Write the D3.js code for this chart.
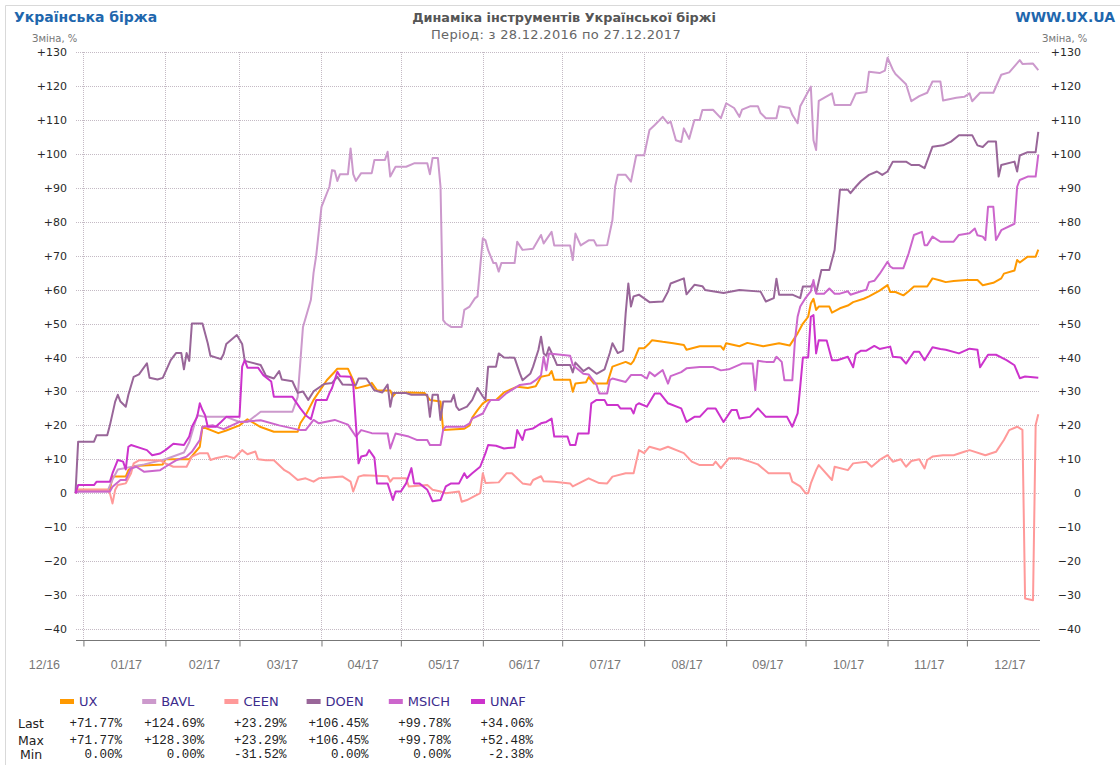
<!DOCTYPE html>
<html>
<head>
<meta charset="utf-8">
<script src="https://cdn.jsdelivr.net/npm/d3@7"></script>
<style>
  body { margin: 0; background: #fff; }
</style>
</head>
<body>
<svg id="chart" width="1120" height="765"></svg>
<script>
// series names and colours
const seriesNames = ["UX", "BAVL", "CEEN", "DOEN", "MSICH", "UNAF"];
const seriesColors = ["#ff9900", "#cc99cc", "#ff9999", "#996699", "#cc66cc", "#cc33cc"];

// values: [date, change %]
const uxData = [
  ["2016-12-29",0],["2016-12-30",1],["2017-01-11",1],["2017-01-12",4.9],["2017-01-17",4.9],["2017-01-18",6.8],
  ["2017-01-20",8],["2017-01-31",8.5],["2017-02-01",10],["2017-02-10",10],["2017-02-14",13.7],["2017-02-15",19.6],
  ["2017-02-21",17.7],["2017-02-24",18.5],["2017-03-01",20],["2017-03-04",21.8],["2017-03-09",19.5],["2017-03-14",18.1],
  ["2017-03-23",18.1],["2017-03-24",20.6],["2017-03-26",23],["2017-03-29",27.5],["2017-04-03",33.3],["2017-04-06",35.8],
  ["2017-04-07",36.7],["2017-04-11",36.7],["2017-04-13",33.3],["2017-04-14",30.9],["2017-04-19",31.9],["2017-04-20",32.5],
  ["2017-04-22",30.3],["2017-04-27",30.3],["2017-04-28",28.5],["2017-04-29",29.5],["2017-05-04",29.7],["2017-05-10",29.5],
  ["2017-05-12",27.5],["2017-05-16",27],["2017-05-17",18.6],["2017-05-25",19],["2017-05-27",20],["2017-05-28",22.3],
  ["2017-05-30",24.5],["2017-06-01",26.5],["2017-06-03",27.5],["2017-06-06",27.5],["2017-06-09",29.7],["2017-06-14",31.4],
  ["2017-06-18",31],["2017-06-21",31.5],["2017-06-23",34.3],["2017-06-26",34.8],["2017-06-27",36],["2017-06-28",33.4],
  ["2017-07-04",33.4],["2017-07-05",29.9],["2017-07-06",32.3],["2017-07-10",32.7],["2017-07-11",34.2],["2017-07-13",32.3],
  ["2017-07-18",32.3],["2017-07-20",37.3],["2017-07-25",38.7],["2017-07-27",38],["2017-07-28",39],["2017-07-30",42.7],
  ["2017-08-01",42.7],["2017-08-03",44.2],["2017-08-04",45.1],["2017-08-08",44.6],["2017-08-12",44.2],["2017-08-16",43.7],
  ["2017-08-17",42.3],["2017-08-22",43.3],["2017-08-30",43.3],["2017-08-31",42.3],["2017-09-01",44.2],["2017-09-06",43.3],
  ["2017-09-09",44.3],["2017-09-15",43.3],["2017-09-21",44.2],["2017-09-25",43.5],["2017-09-28",47.1],["2017-09-30",50],
  ["2017-10-02",52],["2017-10-03",55.9],["2017-10-04",57.3],["2017-10-05",54],["2017-10-06",55],["2017-10-10",55],
  ["2017-10-11",53.2],["2017-10-14",54.5],["2017-10-17",55.3],["2017-10-19",56.3],["2017-10-23",57.3],["2017-10-25",58],
  ["2017-10-29",59.7],["2017-11-01",61.3],["2017-11-02",59.3],["2017-11-04",59.3],["2017-11-07",58.3],["2017-11-09",59.5],
  ["2017-11-11",60.9],["2017-11-16",60.9],["2017-11-18",63.3],["2017-11-21",62.7],["2017-11-23",62.2],["2017-11-26",62.5],
  ["2017-12-01",62.8],["2017-12-05",62.8],["2017-12-07",61.3],["2017-12-11",62],["2017-12-14",63.3],["2017-12-15",64.7],
  ["2017-12-19",65.6],["2017-12-20",68.7],["2017-12-21",68],["2017-12-24",69.7],["2017-12-27",69.7],["2017-12-28",71.77]
];

const bavlData = [
  ["2016-12-29",0],["2016-12-30",0.5],["2017-01-10",0.5],["2017-01-12",4],["2017-01-14",7],["2017-01-24",8.5],
  ["2017-02-01",10],["2017-02-08",12],["2017-02-10",15],["2017-02-13",23],["2017-02-16",22.5],["2017-02-24",22.5],
  ["2017-03-01",21],["2017-03-04",21],["2017-03-09",24],["2017-03-21",24],["2017-03-23",28.4],["2017-03-25",49],
  ["2017-03-28",57],["2017-03-29",64.9],["2017-03-30",70],["2017-04-01",84.4],["2017-04-04",90.3],["2017-04-05",95.2],
  ["2017-04-06",95],["2017-04-07",92],["2017-04-08",94],["2017-04-11",94],["2017-04-12",101.6],["2017-04-13",94],
  ["2017-04-14",92],["2017-04-16",94.3],["2017-04-20",94.3],["2017-04-21",98.2],["2017-04-25",98.2],["2017-04-26",100.6],
  ["2017-04-27",93.3],["2017-04-29",96.2],["2017-05-03",96.2],["2017-05-06",97.2],["2017-05-11",97.2],["2017-05-12",94],
  ["2017-05-13",98.8],["2017-05-15",98.8],["2017-05-16",90.3],["2017-05-17",51],["2017-05-18",50],["2017-05-20",49],
  ["2017-05-24",49],["2017-05-25",54],["2017-05-27",55],["2017-05-29",57.4],["2017-05-30",58],["2017-05-31",66.7],
  ["2017-06-01",75.1],["2017-06-02",74.5],["2017-06-03",71.6],["2017-06-05",67.8],["2017-06-06",67.8],["2017-06-07",65.3],
  ["2017-06-08",67.8],["2017-06-13",67.8],["2017-06-14",74.1],["2017-06-16",71.7],["2017-06-20",72],["2017-06-23",76.1],
  ["2017-06-24",73.6],["2017-06-27",77],["2017-06-28",73],["2017-07-04",73],["2017-07-05",68.7],["2017-07-06",76.5],
  ["2017-07-08",73],["2017-07-11",74.5],["2017-07-13",74.5],["2017-07-14",73],["2017-07-18",73.1],["2017-07-20",80.5],
  ["2017-07-21",90.3],["2017-07-22",93.8],["2017-07-25",93.8],["2017-07-27",91.8],["2017-07-29",99.6],["2017-08-01",99.6],
  ["2017-08-03",107],["2017-08-05",108.5],["2017-08-08",110.9],["2017-08-10",109],["2017-08-11",109.5],["2017-08-13",104],
  ["2017-08-15",103.5],["2017-08-16",107.5],["2017-08-18",104.4],["2017-08-20",110],["2017-08-22",110],["2017-08-23",112.9],
  ["2017-08-27",113],["2017-08-30",110.5],["2017-09-01",114.9],["2017-09-04",113.5],["2017-09-06",110.9],["2017-09-07",113],
  ["2017-09-10",114],["2017-09-13",114],["2017-09-14",112],["2017-09-16",110.5],["2017-09-20",110.5],["2017-09-21",114],
  ["2017-09-25",113.5],["2017-09-26",111.5],["2017-09-28",109],["2017-09-29",114],["2017-10-01",116.9],["2017-10-03",119.8],
  ["2017-10-04",104],["2017-10-05",101.1],["2017-10-06",115.6],["2017-10-08",116.5],["2017-10-11",117.8],["2017-10-12",114.4],
  ["2017-10-18",114.4],["2017-10-20",117.8],["2017-10-24",118.2],["2017-10-25",124.2],["2017-10-29",123.8],["2017-10-31",124.5],
  ["2017-11-01",128.3],["2017-11-03",124.8],["2017-11-04",123.5],["2017-11-08",120.5],["2017-11-10",115.5],["2017-11-13",117],
  ["2017-11-16",118],["2017-11-18",121.3],["2017-11-21",121.3],["2017-11-22",115.7],["2017-11-27",116.5],["2017-11-30",116.8],
  ["2017-12-02",117.8],["2017-12-03",115.5],["2017-12-06",118],["2017-12-11",118],["2017-12-14",123.3],["2017-12-17",124],
  ["2017-12-21",127.6],["2017-12-22",126.5],["2017-12-26",126.6],["2017-12-28",124.69]
];

const ceenData = [
  ["2016-12-29",0],["2016-12-30",1],["2017-01-10",1],["2017-01-11",0],["2017-01-12",-3],["2017-01-13",1],
  ["2017-01-14",2.4],["2017-01-17",2.9],["2017-01-19",5.9],["2017-01-20",8.8],["2017-01-22",9.7],["2017-01-30",9.7],
  ["2017-02-01",8.8],["2017-02-04",7.8],["2017-02-09",7.8],["2017-02-11",10.8],["2017-02-14",11.8],["2017-02-17",11.8],
  ["2017-02-18",9.8],["2017-02-20",10.3],["2017-02-24",11],["2017-02-27",10.3],["2017-03-02",12.7],["2017-03-04",11.5],
  ["2017-03-07",12.3],["2017-03-08",10],["2017-03-11",9.7],["2017-03-14",9.7],["2017-03-18",6.8],["2017-03-20",5.9],
  ["2017-03-23",3.9],["2017-03-26",4.4],["2017-03-29",3.4],["2017-03-31",4.4],["2017-04-09",4.9],["2017-04-12",3.4],
  ["2017-04-13",0.5],["2017-04-15",4.9],["2017-04-17",5.3],["2017-04-26",5],["2017-04-27",3.4],["2017-04-28",4.4],
  ["2017-05-03",4.4],["2017-05-04",2],["2017-05-11",2.4],["2017-05-13",1],["2017-05-16",0.5],["2017-05-18",0],
  ["2017-05-23",0.5],["2017-05-24",-2.5],["2017-05-26",-2],["2017-05-31",0],["2017-06-01",5.9],["2017-06-02",3],
  ["2017-06-07",3.2],["2017-06-10",5.9],["2017-06-12",5.9],["2017-06-16",2.9],["2017-06-19",2.5],["2017-06-20",3.9],
  ["2017-06-23",5],["2017-06-24",3.5],["2017-06-28",3.4],["2017-07-04",2.9],["2017-07-05",2],["2017-07-11",4.4],
  ["2017-07-15",3],["2017-07-18",2.9],["2017-07-20",4.9],["2017-07-25",5.9],["2017-07-28",5.9],["2017-07-30",12.7],
  ["2017-08-01",11.8],["2017-08-03",13.7],["2017-08-07",12.8],["2017-08-10",13.7],["2017-08-16",11.8],["2017-08-19",9.3],
  ["2017-08-22",8.3],["2017-08-27",8.3],["2017-08-28",9.3],["2017-08-30",7.4],["2017-09-02",10.3],["2017-09-06",10.3],
  ["2017-09-10",9.3],["2017-09-13",8.5],["2017-09-17",5.9],["2017-09-25",5.9],["2017-09-26",3.4],["2017-09-29",2],
  ["2017-10-01",0],["2017-10-02",0],["2017-10-03",2.9],["2017-10-05",6.8],["2017-10-06",8.3],["2017-10-11",3.9],
  ["2017-10-12",7.8],["2017-10-17",6.8],["2017-10-19",8.8],["2017-10-24",9.3],["2017-10-26",7.8],["2017-10-29",9.8],
  ["2017-11-01",11.2],["2017-11-03",9.3],["2017-11-06",10],["2017-11-08",7.8],["2017-11-10",9.5],["2017-11-13",10],
  ["2017-11-15",7.3],["2017-11-16",9.8],["2017-11-18",10.8],["2017-11-22",11.2],["2017-11-26",11.2],["2017-11-30",12.2],
  ["2017-12-02",12.7],["2017-12-08",11.2],["2017-12-12",12.2],["2017-12-15",15.7],["2017-12-17",18.6],["2017-12-20",19.6],
  ["2017-12-22",18.7],["2017-12-23",-31],["2017-12-26",-31.52],["2017-12-27",20.1],["2017-12-28",23.29]
];

const doenData = [
  ["2016-12-29",0],["2016-12-30",15.2],["2017-01-05",15.2],["2017-01-06",17.1],["2017-01-10",17.1],["2017-01-11",20],
  ["2017-01-13",27],["2017-01-14",29],["2017-01-15",27],["2017-01-17",25.5],["2017-01-18",29],["2017-01-20",34.3],
  ["2017-01-22",35],["2017-01-25",38.3],["2017-01-26",34],["2017-01-29",33.5],["2017-01-31",34],["2017-02-03",39.2],
  ["2017-02-05",41.3],["2017-02-07",41.3],["2017-02-08",36.5],["2017-02-09",41.3],["2017-02-10",39],["2017-02-11",50],
  ["2017-02-15",50],["2017-02-17",44.2],["2017-02-18",40.5],["2017-02-22",39.5],["2017-02-23",41],["2017-02-24",44],
  ["2017-02-28",46.6],["2017-03-02",44],["2017-03-03",39],["2017-03-09",37.8],["2017-03-11",34.6],["2017-03-14",33.8],
  ["2017-03-16",36],["2017-03-17",33.5],["2017-03-21",33],["2017-03-23",29.6],["2017-03-25",30],["2017-03-27",27.5],
  ["2017-03-29",30],["2017-04-02",32.2],["2017-04-05",32.5],["2017-04-07",34.3],["2017-04-09",32],["2017-04-14",31.9],
  ["2017-04-15",33.8],["2017-04-18",33.8],["2017-04-21",30.3],["2017-04-24",29.7],["2017-04-26",32],["2017-04-27",25.5],
  ["2017-04-28",29.5],["2017-05-03",29.5],["2017-05-05",29],["2017-05-11",29],["2017-05-12",22.5],["2017-05-13",29],
  ["2017-05-15",29],["2017-05-16",21.6],["2017-05-17",27],["2017-05-20",27],["2017-05-21",29],["2017-05-22",25.5],
  ["2017-05-23",24.5],["2017-05-26",25.5],["2017-05-28",27.5],["2017-05-30",31],["2017-06-01",28.5],["2017-06-02",27.5],
  ["2017-06-03",37.3],["2017-06-06",37.3],["2017-06-07",41.2],["2017-06-09",40],["2017-06-13",39.9],["2017-06-15",35.3],
  ["2017-06-16",33.3],["2017-06-19",35.3],["2017-06-20",37.3],["2017-06-22",42.2],["2017-06-23",46.1],["2017-06-24",41.2],
  ["2017-06-25",40.5],["2017-06-26",43],["2017-06-28",39.7],["2017-06-29",37.8],["2017-07-04",37.8],["2017-07-05",35.6],
  ["2017-07-06",38.5],["2017-07-09",36],["2017-07-11",37],["2017-07-14",35.2],["2017-07-17",36.5],["2017-07-19",41.3],
  ["2017-07-20",44.2],["2017-07-22",41.3],["2017-07-24",42],["2017-07-25",53],["2017-07-26",61.8],["2017-07-27",55],
  ["2017-07-28",58],["2017-07-30",58.5],["2017-08-03",56.3],["2017-08-08",56.5],["2017-08-10",59.4],["2017-08-11",61.8],
  ["2017-08-16",63.3],["2017-08-17",58.6],["2017-08-20",61.4],["2017-08-23",61],["2017-08-24",59.9],["2017-08-31",59],
  ["2017-09-06",59.9],["2017-09-14",59.4],["2017-09-16",56.5],["2017-09-19",57.5],["2017-09-20",63.2],["2017-09-21",58.5],
  ["2017-09-26",58.5],["2017-09-29",57.5],["2017-09-30",60.9],["2017-10-03",60.9],["2017-10-04",62],["2017-10-05",59],
  ["2017-10-07",65.8],["2017-10-10",65.8],["2017-10-12",71.7],["2017-10-13",80.5],["2017-10-14",89.4],["2017-10-17",89.4],
  ["2017-10-18",88.4],["2017-10-20",90.3],["2017-10-22",92],["2017-10-25",93.8],["2017-10-28",94.8],["2017-10-30",93.8],
  ["2017-11-01",94.8],["2017-11-03",97.7],["2017-11-08",97.7],["2017-11-10",96.7],["2017-11-13",96.7],["2017-11-15",95.8],
  ["2017-11-18",102.1],["2017-11-22",102.5],["2017-11-25",103.6],["2017-11-28",105.5],["2017-12-03",105.5],["2017-12-05",102.5],
  ["2017-12-07",102],["2017-12-09",103.6],["2017-12-12",103.6],["2017-12-13",93.3],["2017-12-14",96.7],["2017-12-19",97.7],
  ["2017-12-20",94.8],["2017-12-21",99.5],["2017-12-24",100.5],["2017-12-27",100.5],["2017-12-28",106.45]
];

const msichData = [
  ["2016-12-29",0],["2016-12-30",0.5],["2017-01-11",0.5],["2017-01-12",1.9],["2017-01-15",3.9],["2017-01-17",3.9],
  ["2017-01-19",7.3],["2017-01-21",7.8],["2017-01-24",6.3],["2017-01-30",6.8],["2017-02-01",7.8],["2017-02-05",9.7],
  ["2017-02-09",10.8],["2017-02-11",12.2],["2017-02-14",15.7],["2017-02-15",19.6],["2017-02-19",20],["2017-02-23",18.9],
  ["2017-03-01",21],["2017-03-09",21.5],["2017-03-16",20],["2017-03-24",18.6],["2017-03-26",18.6],["2017-03-29",21.6],
  ["2017-03-31",20.6],["2017-04-06",21.6],["2017-04-11",20.2],["2017-04-14",16.7],["2017-04-16",18.6],["2017-04-20",17.7],
  ["2017-04-26",17.6],["2017-04-27",13.2],["2017-04-29",17.6],["2017-05-04",16.7],["2017-05-07",15.7],["2017-05-11",15.7],
  ["2017-05-12",14.2],["2017-05-16",14.2],["2017-05-17",18.7],["2017-05-18",19.6],["2017-05-25",19.6],["2017-05-27",20.6],
  ["2017-05-28",22],["2017-06-01",23.5],["2017-06-03",26.5],["2017-06-04",27.5],["2017-06-07",27.5],["2017-06-10",29.5],
  ["2017-06-15",31.9],["2017-06-19",32.3],["2017-06-21",33.3],["2017-06-23",34.8],["2017-06-24",40.2],["2017-06-25",36.2],
  ["2017-06-26",41.2],["2017-07-04",40.5],["2017-07-05",37.8],["2017-07-09",35.2],["2017-07-11",35],["2017-07-14",31.9],
  ["2017-07-15",29.4],["2017-07-18",29.4],["2017-07-19",33.3],["2017-07-20",33.8],["2017-07-25",32.8],["2017-07-27",34.8],
  ["2017-07-31",34.8],["2017-08-02",33.8],["2017-08-03",35.7],["2017-08-05",34.5],["2017-08-08",36.3],["2017-08-10",32.3],
  ["2017-08-11",34.5],["2017-08-15",35.7],["2017-08-17",36.8],["2017-08-22",37.2],["2017-08-27",37.2],["2017-08-30",36.2],
  ["2017-09-02",36.5],["2017-09-07",38.2],["2017-09-11",38.2],["2017-09-12",30.4],["2017-09-13",39],["2017-09-16",38.7],
  ["2017-09-19",38.7],["2017-09-20",40.2],["2017-09-22",38.7],["2017-09-23",33.3],["2017-09-26",33.3],["2017-09-27",45],
  ["2017-09-28",52],["2017-09-29",55],["2017-10-01",57.5],["2017-10-02",58.5],["2017-10-03",59.5],["2017-10-04",62.8],
  ["2017-10-05",58.8],["2017-10-08",58.8],["2017-10-10",60.3],["2017-10-12",58.8],["2017-10-14",58.8],["2017-10-17",59.5],
  ["2017-10-18",58.5],["2017-10-22",59.5],["2017-10-24",60],["2017-10-25",62.2],["2017-10-27",62.6],["2017-10-29",64.6],
  ["2017-11-01",68.2],["2017-11-02",66.8],["2017-11-03",66.3],["2017-11-07",66.3],["2017-11-09",70.7],["2017-11-11",76.1],
  ["2017-11-14",77],["2017-11-15",73.1],["2017-11-16",73.1],["2017-11-18",75.6],["2017-11-21",74.1],["2017-11-26",74.1],
  ["2017-11-28",76.1],["2017-12-02",76.6],["2017-12-04",78],["2017-12-05",76],["2017-12-07",75.6],["2017-12-08",74.6],
  ["2017-12-09",84.4],["2017-12-11",84.4],["2017-12-12",74.6],["2017-12-13",76],["2017-12-14",77.5],["2017-12-19",79.4],
  ["2017-12-20",90.3],["2017-12-21",92.3],["2017-12-24",93.3],["2017-12-27",93.3],["2017-12-28",99.78]
];

const unafData = [
  ["2016-12-29",0],["2016-12-30",2.4],["2017-01-05",2.4],["2017-01-06",3.4],["2017-01-11",3.4],["2017-01-12",5.9],
  ["2017-01-14",9.8],["2017-01-16",9.3],["2017-01-17",7],["2017-01-18",13.7],["2017-01-19",14.2],["2017-01-25",12.7],
  ["2017-01-27",11.2],["2017-01-30",11.7],["2017-02-01",12.7],["2017-02-04",14.6],["2017-02-08",14.2],["2017-02-10",16.7],
  ["2017-02-11",19.6],["2017-02-13",22.5],["2017-02-14",26.5],["2017-02-15",24.5],["2017-02-16",23],["2017-02-17",19.6],
  ["2017-02-20",19.6],["2017-02-22",21],["2017-02-24",22.5],["2017-03-01",22.5],["2017-03-02",37.3],["2017-03-03",39.2],
  ["2017-03-04",37],["2017-03-08",37],["2017-03-10",34.8],["2017-03-13",32.9],["2017-03-14",28.4],["2017-03-21",28.4],
  ["2017-03-24",25],["2017-03-26",23],["2017-03-28",21.8],["2017-03-30",27.5],["2017-04-03",27.5],["2017-04-04",29.5],
  ["2017-04-05",31],["2017-04-07",35.8],["2017-04-08",34.5],["2017-04-12",34.3],["2017-04-13",32],["2017-04-14",20.6],
  ["2017-04-15",8.8],["2017-04-16",10.8],["2017-04-18",11.2],["2017-04-19",12.7],["2017-04-21",10.5],["2017-04-22",2.9],
  ["2017-04-26",2.9],["2017-04-28",-2],["2017-04-29",0.5],["2017-05-01",0.5],["2017-05-03",2.9],["2017-05-05",7.4],
  ["2017-05-06",2.9],["2017-05-08",2.9],["2017-05-11",1],["2017-05-13",-2.38],["2017-05-16",-2],["2017-05-18",2],
  ["2017-05-20",2.9],["2017-05-23",2.9],["2017-05-25",5.9],["2017-05-26",4.5],["2017-05-28",5.9],["2017-05-31",7.8],
  ["2017-06-02",11.8],["2017-06-03",14.2],["2017-06-06",14],["2017-06-09",13.2],["2017-06-13",13.5],["2017-06-14",18.6],
  ["2017-06-16",15.7],["2017-06-17",18.6],["2017-06-20",19.1],["2017-06-23",20.6],["2017-06-25",21],["2017-06-27",22],
  ["2017-06-28",16.7],["2017-07-03",16.7],["2017-07-04",14.2],["2017-07-06",14.2],["2017-07-07",17.6],["2017-07-11",17.6],
  ["2017-07-12",26.5],["2017-07-14",27.5],["2017-07-17",27.5],["2017-07-18",26],["2017-07-22",26],["2017-07-23",25],
  ["2017-07-27",25],["2017-07-28",23.5],["2017-07-29",26],["2017-07-30",26.5],["2017-08-02",25.5],["2017-08-05",29.4],
  ["2017-08-07",29.4],["2017-08-10",26.5],["2017-08-15",25],["2017-08-17",21],["2017-08-20",22.5],["2017-08-22",22.5],
  ["2017-08-25",25],["2017-08-28",25],["2017-08-31",21],["2017-09-03",24.5],["2017-09-05",24.5],["2017-09-06",22],
  ["2017-09-10",22.5],["2017-09-13",25],["2017-09-16",22.5],["2017-09-24",22.5],["2017-09-26",19.6],["2017-09-28",23.5],
  ["2017-09-29",31.4],["2017-09-30",40],["2017-10-02",40],["2017-10-03",52],["2017-10-04",52.48],["2017-10-05",41.2],
  ["2017-10-06",45.1],["2017-10-09",45],["2017-10-11",39.2],["2017-10-13",39.2],["2017-10-17",40.2],["2017-10-19",37.1],
  ["2017-10-20",41],["2017-10-22",42],["2017-10-24",42],["2017-10-27",43.4],["2017-10-29",42.5],["2017-11-02",43.2],
  ["2017-11-03",40.2],["2017-11-06",40],["2017-11-08",38.2],["2017-11-11",41.7],["2017-11-13",41.7],["2017-11-15",39.2],
  ["2017-11-18",43],["2017-11-21",42.5],["2017-11-23",42.3],["2017-11-28",41.2],["2017-12-02",42.6],["2017-12-05",42.3],
  ["2017-12-06",37.1],["2017-12-09",40.8],["2017-12-12",40.8],["2017-12-16",39.2],["2017-12-19",37.7],["2017-12-21",33.9],
  ["2017-12-23",34.4],["2017-12-28",34.06]
];

// summary table under the legend
const lastVals = [71.77, 124.69, 23.29, 106.45, 99.78, 34.06];
const maxVals = [71.77, 128.30, 23.29, 106.45, 99.78, 52.48];
const minVals = [0, 0, -31.52, 0, 0, -2.38];

// axis labels
const yTicks = [-40, -30, -20, -10, 0, 10, 20, 30, 40, 50, 60, 70, 80, 90, 100, 110, 120, 130];
const monthLabels = ["12/16", "01/17", "02/17", "03/17", "04/17", "05/17", "06/17",
  "07/17", "08/17", "09/17", "10/17", "11/17", "12/17"];

const allSeries = [uxData, bavlData, ceenData, doenData, msichData, unafData];

const svg = d3.select("#chart");
const parse = d3.timeParse("%Y-%m-%d");

const gridLeft = 76, gridRight = 1040, axisY = 640;

let x = d3.scaleTime()
  .domain([parse("2016-12-29"), parse("2017-12-28")])
  .range([75.5, 1038.3]);
let y = d3.scaleLinear().domain([-40, 130]).range([629, 52]);

// frame
svg.append("path")
  .attr("d", "M5.5,765V5.5H1120")
  .attr("fill", "none")
  .attr("stroke", "#d9d9d9");

// header
svg.append("text")
  .attr("x", 14).attr("y", 22)
  .text("Українська біржа")
  .attr("font-family", "DejaVu Sans")
  .attr("font-size", "14px")
  .attr("font-weight", "700")
  .attr("fill", "#1f67ad");

svg.append("text")
  .attr("x", 1115).attr("y", 22)
  .attr("text-anchor", "end")
  .text("WWW.UX.UA")
  .attr("font-family", "DejaVu Sans")
  .attr("font-size", "14px")
  .attr("font-weight", "700")
  .attr("fill", "#1f67ad");

svg.append("text")
  .attr("x", 564).attr("y", 22)
  .attr("text-anchor", "middle")
  .text("Динаміка інструментів Української біржі")
  .attr("font-family", "DejaVu Sans")
  .attr("font-size", "12.8px")
  .attr("font-weight", "700")
  .attr("fill", "#555");

svg.append("text")
  .attr("x", 556).attr("y", 39)
  .attr("text-anchor", "middle")
  .text("Період: з 28.12.2016 по 27.12.2017")
  .attr("font-family", "DejaVu Sans")
  .attr("font-size", "13px")
  .attr("letter-spacing", "0.3px")
  .attr("fill", "#666");

for (const ux of [32, 1042]) {
  svg.append("text")
    .attr("x", ux).attr("y", 42)
    .text("Зміна, %")
    .attr("font-family", "DejaVu Sans")
    .attr("font-size", "10px")
    .attr("fill", "#777");
}

// grid
let grid = svg.append("g").attr("class", "grid");
grid.selectAll("line.h")
  .data(yTicks)
  .join("line")
  .attr("class", "h")
  .attr("x1", gridLeft).attr("x2", gridRight)
  .attr("y1", (d) => Math.round(y(d)) + 0.5)
  .attr("y2", (d) => Math.round(y(d)) + 0.5)
  .attr("stroke", "#c4bac4")
  .attr("stroke-dasharray", "1,1");

let monthStarts = d3.timeMonth.range(parse("2017-01-01"), parse("2017-12-02"));
grid.selectAll("line.v")
  .data(monthStarts)
  .join("line")
  .attr("class", "v")
  .attr("x1", (d) => Math.round(x(d)) + 0.5)
  .attr("x2", (d) => Math.round(x(d)) + 0.5)
  .attr("y1", Math.round(y(130)))
  .attr("y2", axisY)
  .attr("stroke", "#c4bac4")
  .attr("stroke-dasharray", "1,1");

// y labels, both sides
let fmtY = (d) => (d > 0 ? "+" + d : d < 0 ? "\u2212" + Math.abs(d) : "0");
for (const lx of [67, 1081]) {
  let g = svg.append("g")
    .attr("transform", `translate(${lx},0)`)
    .call(d3.axisLeft(y).tickValues(yTicks).tickFormat(fmtY).tickSize(0).tickPadding(0));
  g.select(".domain").remove();
  g.selectAll("text")
    .attr("font-family", "DejaVu Sans")
    .attr("font-size", "11px")
    .attr("fill", "#2a2a2a");
}

// x axis
let xAxis = svg.append("g")
  .attr("transform", `translate(0,${axisY + 0.5})`)
  .call(d3.axisBottom(x).tickValues(monthStarts).tickFormat("").tickSize(6).tickSizeOuter(0));
xAxis.select(".domain").attr("stroke", "#777").attr("d", `M${gridLeft},0H${gridRight}`);
xAxis.selectAll(".tick line").attr("stroke", "#777");

// month labels sit in the middle of each month
let labelStarts = d3.timeMonth.range(parse("2016-12-01"), parse("2018-01-02"));
svg.append("g")
  .selectAll("text")
  .data(monthLabels)
  .join("text")
  .attr("x", (d, i) => (x(labelStarts[i]) + x(labelStarts[i + 1])) / 2 + 2)
  .attr("y", 669)
  .attr("text-anchor", "middle")
  .text((d) => d)
  .attr("font-family", "Liberation Sans")
  .attr("font-size", "12.5px")
  .attr("fill", "#777");

// lines
let line = d3.line()
  .x((d) => x(parse(d[0])))
  .y((d) => y(d[1]));

let lines = svg.append("g").attr("class", "lines");
allSeries.forEach((data, i) => {
  lines.append("path")
    .datum(data)
    .attr("d", line)
    .attr("fill", "none")
    .attr("stroke", seriesColors[i])
    .attr("stroke-width", 2)
    .attr("stroke-linejoin", "round");
});

// legend + summary table
let colStep = 82.2;
let legend = svg.append("g").attr("class", "legend");
seriesNames.forEach((name, i) => {
  legend.append("rect")
    .attr("x", 60 + i * colStep).attr("y", 699)
    .attr("width", 14).attr("height", 5)
    .attr("fill", seriesColors[i]);
  legend.append("text")
    .attr("x", 79 + i * colStep).attr("y", 706)
    .text(name)
    .attr("font-family", "DejaVu Sans")
    .attr("font-size", "13px")
    .attr("fill", "#3d2c8d");
});

let fmtPct = (v) => (v > 0 ? "+" : "") + v.toFixed(2) + "%";
let rows = [["Last", lastVals, 727], ["Max", maxVals, 744], ["Min", minVals, 758]];
for (const [label, vals, ry] of rows) {
  legend.append("text")
    .attr("x", 31).attr("y", ry + 1)
    .attr("text-anchor", "middle")
    .text(label)
    .attr("font-family", "DejaVu Sans")
    .attr("font-size", "12.5px")
    .attr("fill", "#222");
  vals.forEach((v, i) => {
    legend.append("text")
      .attr("x", 122 + i * colStep).attr("y", ry)
      .attr("text-anchor", "end")
      .text(fmtPct(v))
      .attr("font-family", "Liberation Mono")
      .attr("font-size", "12.5px")
      .attr("fill", "#222");
  });
}
</script>
</body>
</html>
